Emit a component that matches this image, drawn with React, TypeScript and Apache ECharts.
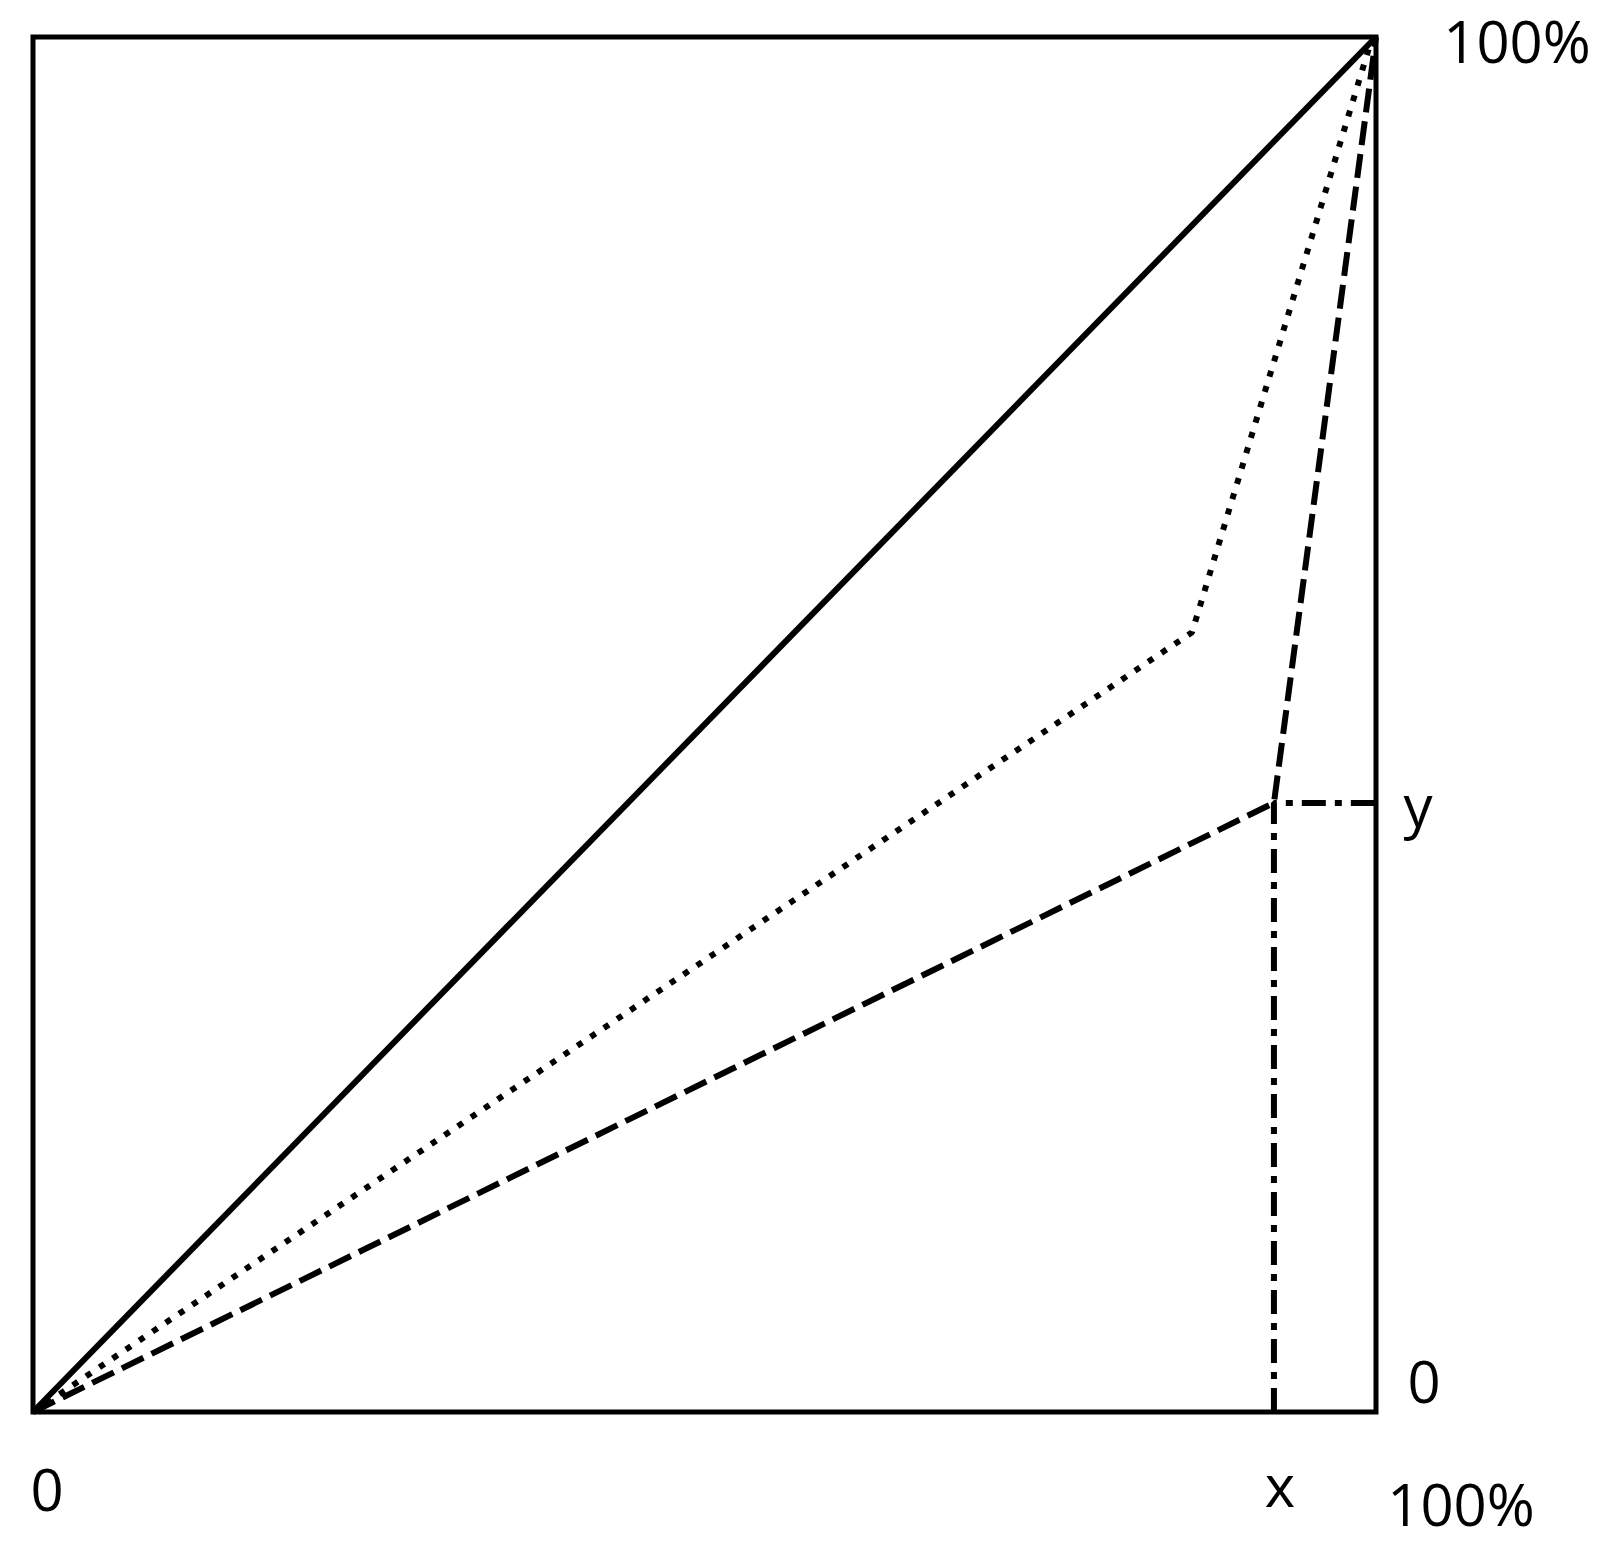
import React, { useEffect, useRef } from "react";
import * as echarts from "echarts";

const solidLine: number[][] = [[0, 0], [100, 100]];
const dottedLine: number[][] = [[0, 0], [86.3, 56.7], [99.6, 99.6]];
const dashedLine: number[][] = [[0, 0], [92.4, 44.3], [100, 100]];
const dashDotLine: number[][] = [[92.4, 0], [92.4, 44.3], [100, 44.3]];

const labelTexts = ["100%", "y", "0", "0", "x", "100%"];

export default function App() {
  const ref = useRef<HTMLDivElement>(null);
  useEffect(() => {
    if (!ref.current) return;
    const chart = echarts.init(ref.current, undefined, { renderer: "svg" });
    const font = "'Open Sans', 'Liberation Sans', sans-serif";
    const fs = 58;
    const pos = [
      [1517, 40],
      [1418, 804],
      [1424, 1380],
      [47, 1488],
      [1280, 1484],
      [1461, 1503],
    ];
    const axisCommon = {
      type: "value" as const,
      min: 0,
      max: 100,
      axisLine: { show: false },
      axisTick: { show: false },
      axisLabel: { show: false },
      splitLine: { show: false },
    };
    chart.setOption({
      animation: false,
      backgroundColor: "#fff",
      grid: {
        left: 33,
        top: 37,
        width: 1343,
        height: 1375,
        show: true,
        borderColor: "#000",
        borderWidth: 5,
        backgroundColor: "transparent",
      },
      xAxis: axisCommon,
      yAxis: axisCommon,
      series: [
        {
          type: "line",
          data: solidLine,
          showSymbol: false,
          silent: true,
          lineStyle: { color: "#000", width: 6, type: "solid" },
        },
        {
          type: "line",
          data: dottedLine,
          showSymbol: false,
          silent: true,
          lineStyle: { color: "#000", width: 6, type: [6, 10] },
        },
        {
          type: "line",
          data: dashedLine,
          showSymbol: false,
          silent: true,
          lineStyle: { color: "#000", width: 6, type: [24, 9] },
        },
        {
          type: "line",
          data: dashDotLine,
          showSymbol: false,
          silent: true,
          lineStyle: { color: "#000", width: 6, type: [24, 9, 7, 9] },
        },
      ],
      graphic: labelTexts.map((t, i) => ({
        type: "text",
        x: pos[i][0],
        y: pos[i][1],
        style: {
          text: t,
          fill: "#000",
          font: `${fs}px ${font}`,
          lineHeight: 56,
          align: "center",
          verticalAlign: "middle",
        },
      })),
    });
    return () => chart.dispose();
  }, []);
  return (
    <div
      ref={ref}
      style={{ position: "fixed", left: 0, top: 0, width: 1607, height: 1541 }}
    />
  );
}
